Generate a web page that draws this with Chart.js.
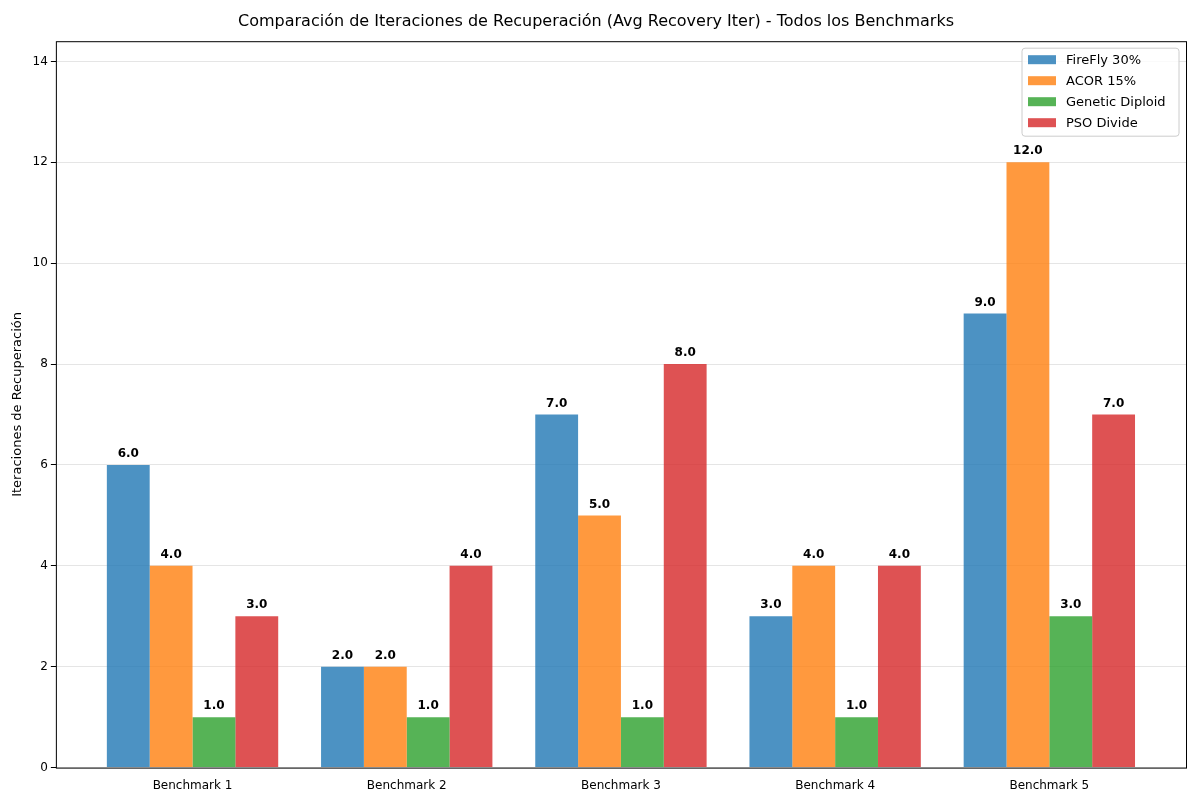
<!DOCTYPE html>
<html><head><meta charset="utf-8">
<script src="https://cdn.jsdelivr.net/npm/chart.js@4"></script>
<style>html,body{margin:0;background:#fff}#w{width:1200px;height:800px}</style>
</head><body><div id="w"><canvas id="c"></canvas></div>
<script>
const categories=["Benchmark 1","Benchmark 2","Benchmark 3","Benchmark 4","Benchmark 5"];
const seriesNames=["FireFly 30%","ACOR 15%","Genetic Diploid","PSO Divide"];
const fireFly=[6,2,7,3,9];
const acor=[4,2,5,4,12];
const genetic=[1,1,1,1,3];
const pso=[3,4,8,4,7];
const colors=["rgba(31,119,180,0.8)","rgba(255,127,14,0.8)","rgba(44,160,44,0.8)","rgba(214,39,40,0.8)"];
const all=[fireFly,acor,genetic,pso];
const datasets=all.map((v,i)=>({label:seriesNames[i],data:v.map((y,x)=>({x,y})),backgroundColor:colors[i],borderWidth:0,categoryPercentage:0.8,barPercentage:1}));
const F="'DejaVu Sans', sans-serif";
const extras={id:'extras',afterDatasetsDraw(ch){
 const c=ch.ctx,a=ch.chartArea;
 c.save();
 c.font="bold 12px "+F;c.fillStyle="#000";c.textAlign="center";c.textBaseline="bottom";
 ch.data.datasets.forEach((d,i)=>{ch.getDatasetMeta(i).data.forEach((b,j)=>{c.fillText(d.data[j].y.toFixed(1),b.x,b.y-5);});});
 c.strokeStyle="#000";c.lineWidth=1;c.strokeRect(a.left+0.5,a.top+0.5,a.right-a.left,a.bottom-a.top);
 // legend
 const lw=157,lh=88,lx=a.right-lw-7,ly=a.top+7;
 c.fillStyle="rgba(255,255,255,0.8)";c.strokeStyle="#ccc";c.beginPath();c.roundRect(lx,ly,lw,lh,3);c.fill();c.stroke();
 c.font="13px "+F;c.textAlign="left";c.textBaseline="middle";
 seriesNames.forEach((n,i)=>{const y=ly+11+i*21;c.fillStyle=colors[i];c.fillRect(lx+6,y-4,28,9);c.fillStyle="#000";c.fillText(n,lx+44,y+1);});
 c.restore();}};
new Chart(document.getElementById('c'),{type:'bar',data:{datasets},
options:{responsive:true,maintainAspectRatio:false,animation:false,
layout:{padding:{left:6,right:14,top:0,bottom:4}},
plugins:{legend:{display:false},tooltip:{enabled:false},
title:{display:true,text:"Comparación de Iteraciones de Recuperación (Avg Recovery Iter) - Todos los Benchmarks",color:"#000",font:{family:F,size:16,weight:'normal'},padding:{top:12,bottom:10}}},
scales:{x:{type:'linear',min:-0.638,max:4.638,offset:false,grid:{display:false},border:{display:false},
 afterBuildTicks(s){s.ticks=categories.map((_,i)=>({value:i}));},
 ticks:{color:"#000",font:{family:F,size:12},callback:v=>categories[v]}},
 y:{min:0,max:14.4,grid:{color:"rgba(0,0,0,0.1)",tickColor:"#000",tickLength:5},border:{display:false},
 afterBuildTicks(s){s.ticks=[0,2,4,6,8,10,12,14].map(v=>({value:v}));},
 ticks:{color:"#000",font:{family:F,size:12}},
 title:{display:true,text:"Iteraciones de Recuperación",color:"#000",font:{family:F,size:13}}}}},
plugins:[extras]});
</script></body></html>
